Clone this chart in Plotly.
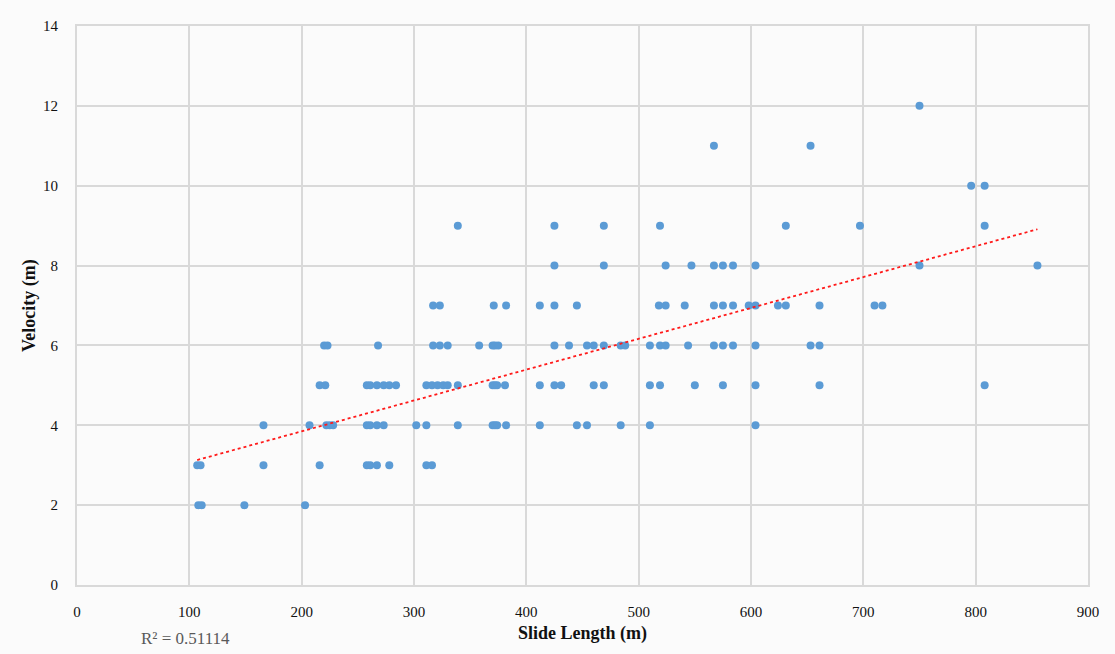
import numpy as np
import plotly.graph_objects as go

# Slide length (m) grouped by observed velocity value
velocity_levels = [2, 3, 4, 5, 6, 7, 8, 9, 10, 11, 12]
length_v2 = [108, 111, 149, 203]
length_v3 = [107, 110, 166, 216, 258, 261, 267, 278, 311, 316]
length_v4 = [166, 207, 222, 225, 228, 258, 261, 267, 273, 302, 311, 339, 370, 372,
             374, 382, 412, 445, 454, 484, 510, 604]
length_v5 = [216, 221, 258, 261, 267, 273, 278, 284, 311, 316, 321, 326, 330, 339,
             370, 372, 374, 381, 412, 425, 431, 460, 469, 510, 519, 550, 575, 604,
             661, 808]
length_v6 = [220, 223, 268, 317, 323, 330, 358, 370, 372, 375, 425, 438, 454, 460,
             469, 484, 488, 510, 519, 524, 544, 567, 575, 584, 604, 653, 661]
length_v7 = [317, 323, 371, 382, 412, 425, 445, 518, 524, 541, 567, 575, 584, 598,
             604, 624, 631, 661, 710, 717]
length_v8 = [425, 469, 524, 547, 567, 575, 584, 604, 750, 855]
length_v9 = [339, 425, 469, 519, 631, 697, 808]
length_v10 = [796, 808]
length_v11 = [567, 653]
length_v12 = [750]

# Linear trendline: velocity = slope * length + intercept
trend_slope = 0.007727
trend_intercept = 2.303
r_squared_label = "R² = 0.51114"
x_ticks = [0, 100, 200, 300, 400, 500, 600, 700, 800, 900]
y_ticks = [0, 2, 4, 6, 8, 10, 12, 14]

groups = [length_v2, length_v3, length_v4, length_v5, length_v6, length_v7,
          length_v8, length_v9, length_v10, length_v11, length_v12]
xs, ys = [], []
for v, lengths in zip(velocity_levels, groups):
    xs.extend(lengths)
    ys.extend([v] * len(lengths))
xs = np.array(xs, dtype=float)
ys = np.array(ys, dtype=float)

# Trendline spans the observed length range
trend_x = np.array([xs.min(), xs.max()])
trend_y = trend_slope * trend_x + trend_intercept

serif = "Liberation Serif, Times New Roman, serif"
grid = "#d9d9d9"

fig = go.Figure()
fig.add_trace(go.Scatter(
    x=xs, y=ys, mode="markers",
    marker=dict(size=8, color="#5b9bd5", line=dict(width=0)),
    showlegend=False,
))
fig.add_trace(go.Scatter(
    x=trend_x, y=trend_y, mode="lines",
    line=dict(color="#ff1a1a", width=1.8, dash="dot"),
    showlegend=False,
))

fig.update_layout(
    width=1115, height=654,
    margin=dict(l=77, r=27, t=26, b=69),
    paper_bgcolor="#fbfbfb", plot_bgcolor="#fbfbfb",
    font=dict(family=serif, size=15, color="#111111"),
    xaxis=dict(
        range=[0, 900], tickvals=x_ticks, showgrid=True, gridcolor=grid, gridwidth=2,
        zeroline=False, showline=True, linecolor=grid, linewidth=2, mirror=True,
        ticks="", ticklabelstandoff=12,
    ),
    yaxis=dict(
        range=[0, 14], tickvals=y_ticks, showgrid=True, gridcolor=grid, gridwidth=2,
        zeroline=False, showline=True, linecolor=grid, linewidth=2, mirror=True,
        ticks="", ticklabelstandoff=14,
    ),
    annotations=[
        dict(text="<b>Slide Length (m)</b>", xref="paper", yref="paper",
             x=0.5, y=-0.086, xanchor="center", yanchor="middle", showarrow=False,
             font=dict(family=serif, size=18, color="#111111")),
        dict(text="<b>Velocity (m)</b>", xref="paper", yref="paper",
             x=-0.047, y=0.5, xanchor="center", yanchor="middle", showarrow=False,
             textangle=-90, font=dict(family=serif, size=18, color="#111111")),
        dict(text=r_squared_label, xref="paper", yref="paper",
             x=0.107, y=-0.095, xanchor="center", yanchor="middle", showarrow=False,
             font=dict(family=serif, size=17, color="#595959")),
    ],
)

fig.write_html("out.html")
